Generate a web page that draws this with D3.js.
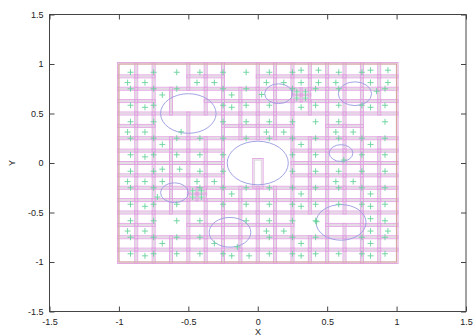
<!DOCTYPE html>
<html lang="en">
<head>
<meta charset="UTF-8">
<title>Mesh with holes</title>
<script src="https://d3js.org/d3.v7.min.js"></script>
<style>
    body { margin: 0; background: #fff; }
    svg { display: block; }
    text { font-family: "Liberation Sans", Arial, sans-serif; font-size: 9px; fill: #222; }
</style>
</head>
<body>
<svg id="chart" width="473" height="336"></svg>
<script>
    const xTicks = [-1.5, -1, -0.5, 0, 0.5, 1, 1.5];
    const yTicks = [-1.5, -1, -0.5, 0, 0.5, 1, 1.5];

    // background mesh: 16 x 16 cells over [-1,1], row 0 at the top
    const nCells = 16;
    // merged cells [col, row, ncols, nrows]
    const blocks = [
        [2, 0, 2, 2], [6, 0, 2, 2], [2, 2, 1, 2], [3, 2, 2, 2],
        [2, 4, 2, 2], [4, 4, 2, 2], [10, 4, 2, 2], [14, 4, 2, 2],
        [6, 6, 4, 4], [2, 12, 2, 2], [10, 12, 2, 2], [12, 12, 2, 1]
    ];
    // cells split in 2 x 2 [col, row]
    const refined = [[10, 2], [4, 10]];
    // odd leftover cell in the middle hole [x0, y0, x1, y1]
    const extraRects = [[-0.025, 0.03, 0.028, -0.24]];

    // holes [cx, cy, r]
    const circles = [
        [-0.5, 0.5, 0.2], [0, 0, 0.22], [0.7, 0.7, 0.12], [0.15, 0.7, 0.1],
        [0.6, 0.1, 0.085], [-0.6, -0.3, 0.1], [-0.2, -0.7, 0.15], [0.6, -0.6, 0.18]
    ];

    // coarse 12 x 12 point lattice, top row first
    const coarsePts = [
        "111111110110",
        "111011011101",
        "110011101111",
        "110011111101",
        "111111111111",
        "111110011011",
        "110110011111",
        "110111111111",
        "111011111111",
        "111101111001",
        "111100111011",
        "111110111111"
    ];
    // fine 16 x 16 point lattice, top row first
    const finePts = [
        "0000000000110011",
        "1100110011111011",
        "0010001000000000",
        "0100001000100010",
        "0000000000000000",
        "1100000011001100",
        "0010000000100010",
        "0100000000000000",
        "0011000000000000",
        "1110110000001100",
        "0000001000100010",
        "0100000000100010",
        "0000000000000010",
        "1100000011000011",
        "0010010000100010",
        "0100001100100010"
    ];
    // points sitting on the hole boundaries
    const edgePts = [
        [-0.552, 0.315], [0.028, 0.692], [0.856, 0.725], [0.62, 0.03],
        [-0.723, -0.344], [-0.147, -0.848], [0.424, -0.593]
    ];

    const svg = d3.select("#chart");
    const x = d3.scaleLinear().domain([-1.5, 1.5]).range([49.5, 466]);
    const y = d3.scaleLinear().domain([-1.5, 1.5]).range([311.5, 14.5]);

    const step = 2 / nCells;
    const colX = c => -1 + c * step;
    const rowY = r => 1 - r * step;

    // collect mesh rectangles, [x0, yTop, x1, yBottom, outset]
    const rects = [];
    const covered = new Set();
    blocks.forEach(([c, r, w, h]) => {
        for (let i = c; i < c + w; i++)
            for (let j = r; j < r + h; j++) covered.add(i + "," + j);
        rects.push([colX(c), rowY(r), colX(c + w), rowY(r + h), 1.5]);
    });
    const subPts = [];
    refined.forEach(([c, r]) => {
        covered.add(c + "," + r);
        for (let i = 0; i < 2; i++)
            for (let j = 0; j < 2; j++) {
                const x0 = colX(c) + i * step / 2, y0 = rowY(r) - j * step / 2;
                rects.push([x0, y0, x0 + step / 2, y0 - step / 2, 1]);
                subPts.push([x0 + step / 4, y0 - step / 4]);
            }
    });
    for (let r = 0; r < nCells; r++)
        for (let c = 0; c < nCells; c++)
            if (!covered.has(c + "," + r)) rects.push([colX(c), rowY(r), colX(c + 1), rowY(r + 1), 1.5]);
    extraRects.forEach(d => rects.push([d[0], d[1], d[2], d[3], 1.5]));

    const mesh = svg.append("g");
    mesh.selectAll("rect.grey")
        .data(rects)
        .enter().append("rect")
        .attr("class", "grey")
        .attr("x", d => x(d[0]))
        .attr("y", d => y(d[1]))
        .attr("width", d => x(d[2]) - x(d[0]))
        .attr("height", d => y(d[3]) - y(d[1]))
        .attr("fill", "none")
        .attr("stroke", "#e2dce2")
        .attr("stroke-width", 1.6);

    mesh.selectAll("rect.cell")
        .data(rects)
        .enter().append("rect")
        .attr("class", "cell")
        .attr("x", d => x(d[0]) - d[4])
        .attr("y", d => y(d[1]) - d[4])
        .attr("width", d => x(d[2]) - x(d[0]) + 2 * d[4])
        .attr("height", d => y(d[3]) - y(d[1]) + 2 * d[4])
        .attr("fill", "none")
        .attr("stroke", "#e2a2e2")
        .attr("stroke-width", 0.9);

    // domain outline
    svg.append("rect")
        .attr("x", x(-1))
        .attr("y", y(1))
        .attr("width", x(1) - x(-1))
        .attr("height", y(-1) - y(1))
        .attr("fill", "none")
        .attr("stroke", "#d8a298")
        .attr("stroke-width", 1);

    svg.append("g").selectAll("ellipse")
        .data(circles)
        .enter().append("ellipse")
        .attr("cx", d => x(d[0]))
        .attr("cy", d => y(d[1]))
        .attr("rx", d => x(d[2]) - x(0))
        .attr("ry", d => y(0) - y(d[2]))
        .attr("fill", "none")
        .attr("stroke", "#979be0")
        .attr("stroke-width", 0.9);

    // all points in data coords
    const pts = [];
    coarsePts.forEach((row, r) => row.split("").forEach((v, c) => {
        if (v === "1") pts.push([-1 + (2 * c + 1) / 12, 1 - (2 * r + 1) / 12]);
    }));
    finePts.forEach((row, r) => row.split("").forEach((v, c) => {
        if (v === "1") pts.push([-1 + (2 * c + 1) / 16, 1 - (2 * r + 1) / 16]);
    }));
    subPts.forEach(p => pts.push(p));
    edgePts.forEach(p => pts.push(p));

    svg.append("g").selectAll("path")
        .data(pts)
        .enter().append("path")
        .attr("transform", d => `translate(${x(d[0])},${y(d[1])})`)
        .attr("d", "M-3,0H3M0,-3V3")
        .attr("stroke", "#68d29c")
        .attr("stroke-width", 0.9);

    // frame and axes
    const fmt = d => String(d);
    const styleAxis = g => {
        g.select(".domain").remove();
        g.selectAll(".tick line").attr("stroke", "#444");
        g.selectAll(".tick text").attr("fill", "#222").style("font-size", "9px")
            .style("font-family", "'Liberation Sans', Arial, sans-serif");
    };
    svg.append("g").attr("transform", "translate(0,311.5)")
        .call(d3.axisBottom(x).tickValues(xTicks).tickSize(-5).tickPadding(7).tickFormat(fmt)).call(styleAxis);
    svg.append("g").attr("transform", "translate(0,14.5)")
        .call(d3.axisTop(x).tickValues(xTicks).tickSize(-5).tickFormat("")).call(styleAxis);
    svg.append("g").attr("transform", "translate(49.5,0)")
        .call(d3.axisLeft(y).tickValues(yTicks).tickSize(-5).tickPadding(6).tickFormat(fmt)).call(styleAxis);
    svg.append("g").attr("transform", "translate(466,0)")
        .call(d3.axisRight(y).tickValues(yTicks).tickSize(-5).tickFormat("")).call(styleAxis);

    svg.append("rect")
        .attr("x", 49.5).attr("y", 14.5)
        .attr("width", 466 - 49.5).attr("height", 311.5 - 14.5)
        .attr("fill", "none")
        .attr("stroke", "#444")
        .attr("stroke-width", 1);

    svg.append("text")
        .attr("x", 258).attr("y", 335)
        .attr("text-anchor", "middle")
        .text("X");
    svg.append("text")
        .attr("transform", "translate(15,163) rotate(-90)")
        .attr("text-anchor", "middle")
        .text("Y");
</script>
</body>
</html>
